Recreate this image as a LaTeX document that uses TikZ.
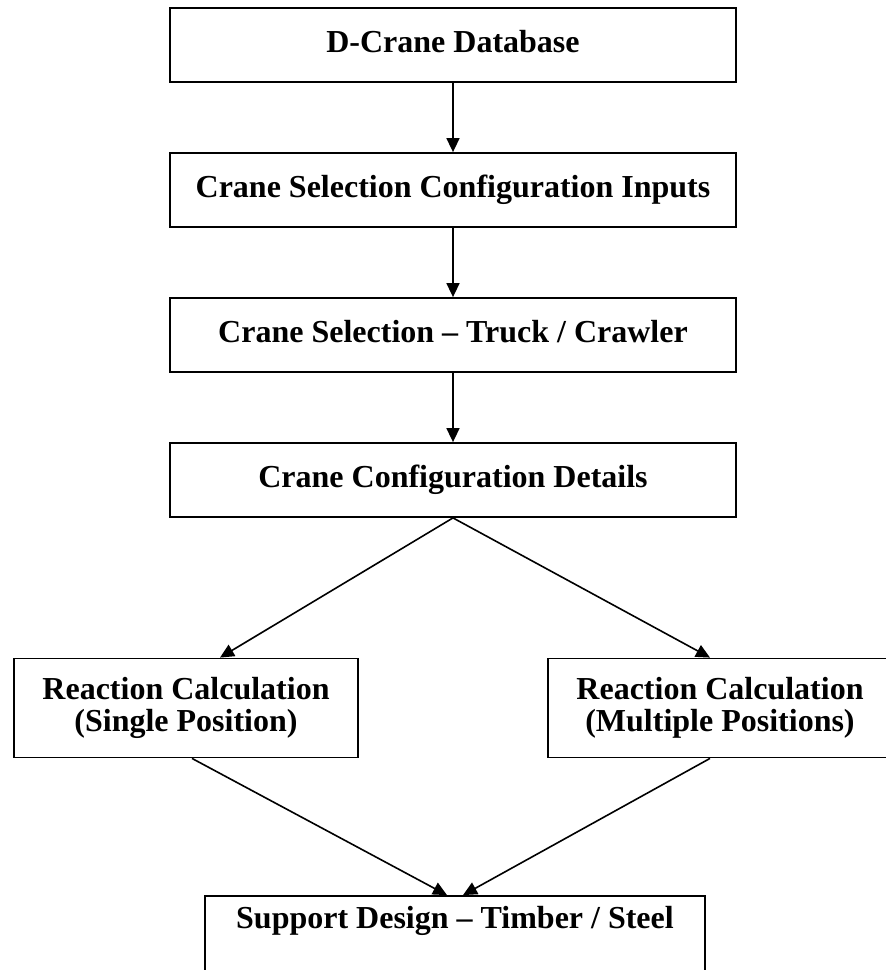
\documentclass[tikz,border=0pt]{standalone}
\usepackage{fontspec}
\setmainfont{Liberation Serif}
\usetikzlibrary{arrows.meta}

\begin{document}
\begin{tikzpicture}[x=0.5pt, y=-0.5pt,
    stage/.style={draw, line width=0.9pt, inner sep=0pt, font=\bfseries\fontsize{16}{16}\selectfont},
    widestage/.style={stage, minimum width=283pt, minimum height=37pt, text height=11pt, text depth=3.5pt},
    halfstage/.style={stage, minimum width=172pt, minimum height=49.5pt, align=center},
    flow/.style={line width=0.8pt, -{Triangle[length=7pt, width=6.5pt]}}]
      \path[use as bounding box, clip] (0, 0) rectangle (886, 970);

      \node[widestage] (db) at (453, 45) {D-Crane Database};
      \node[widestage] (inputs) at (453, 190) {Crane Selection Configuration Inputs};
      \node[widestage] (select) at (453, 335) {Crane Selection -- Truck / Crawler};
      \node[widestage] (config) at (453, 480) {Crane Configuration Details};
      \node[halfstage] (single) at (186, 708) {Reaction Calculation\\(Single Position)};
      \node[halfstage] (multi) at (720, 708) {Reaction Calculation\\(Multiple Positions)};
      \node[stage, minimum width=250pt, text height=16pt, text depth=24pt] (support) at (455, 936) {Support Design -- Timber / Steel};

      \draw[flow] (db.south) -- (inputs.north);
      \draw[flow] (inputs.south) -- (select.north);
      \draw[flow] (select.south) -- (config.north);
      \draw[flow] (config.south) -- ([xshift=17pt]single.north);
      \draw[flow] (config.south) -- ([xshift=-5pt]multi.north);
      \draw[flow] ([xshift=3pt]single.south) -- ([xshift=-4pt]support.north);
      \draw[flow] ([xshift=-5pt]multi.south) -- ([xshift=4pt]support.north);
\end{tikzpicture}
\end{document}
